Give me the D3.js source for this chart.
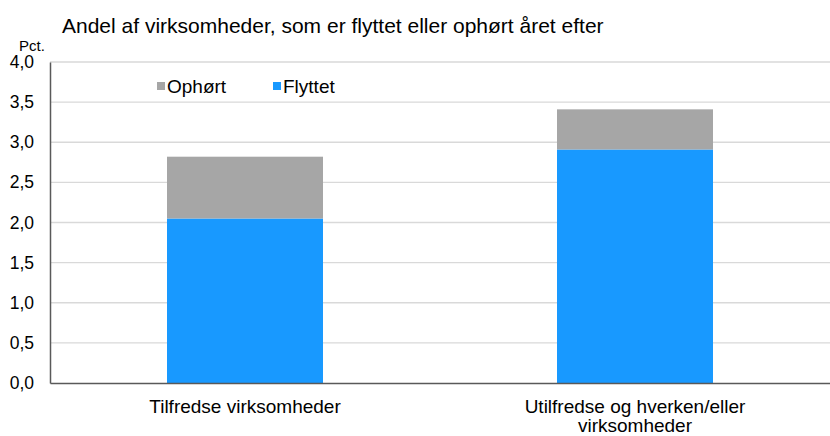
<!DOCTYPE html>
<html>
<head>
<meta charset="utf-8">
<script src="https://cdn.jsdelivr.net/npm/d3@7"></script>
<style>
  body { margin: 0; background: #fff; }
  text { font-family: "Liberation Sans", Arial, sans-serif; fill: #000; }
</style>
</head>
<body>
<svg width="830" height="436"></svg>
<script>
/* Data */
const categories = ['Tilfredse virksomheder', 'Utilfredse og hverken/eller virksomheder'];
const categoryLines = [['Tilfredse virksomheder'], ['Utilfredse og hverken/eller', 'virksomheder']];
const flyttet = [2.05, 2.91];
const ophoert = [0.77, 0.50];
const seriesNames = ['Flyttet', 'Ophørt'];
const yTicks = [0, 0.5, 1, 1.5, 2, 2.5, 3, 3.5, 4];

const colors = { 'Flyttet': '#1899ff', 'Ophørt': '#a6a6a6' };

/* SVG */
const svg = d3.select('svg');
const margin = { top: 62, right: 0, bottom: 53, left: 50 };
const width = 830 - margin.left - margin.right;
const height = 436 - margin.top - margin.bottom;

const g = svg.append('g').attr('transform', `translate(${margin.left},${margin.top})`);

/* Scales */
const x = d3.scaleBand().domain(categories).range([0, width]).paddingInner(0.6).paddingOuter(0.3);
const y = d3.scaleLinear().domain([0, 4]).range([height, 0]);

const fmt = d => d3.format('.1f')(d).replace('.', ',');

/* Gridlines */
g.append('g')
  .selectAll('line').data(yTicks.filter(d => d > 0))
  .enter().append('line')
  .attr('x1', 0).attr('x2', width)
  .attr('y1', d => y(d)).attr('y2', d => y(d))
  .attr('stroke', '#d9d9d9').attr('stroke-width', 1.3);

/* Stacked bars */
const table = categories.map((c, i) => ({ cat: c, 'Flyttet': flyttet[i], 'Ophørt': ophoert[i] }));
const stack = d3.stack().keys(seriesNames)(table);

g.append('g').selectAll('g').data(stack)
  .enter().append('g')
  .attr('fill', d => colors[d.key])
  .selectAll('rect').data(d => d)
  .enter().append('rect')
  .attr('x', d => x(d.data.cat))
  .attr('width', x.bandwidth())
  .attr('y', d => y(d[1]))
  .attr('height', d => y(d[0]) - y(d[1]));

/* Y axis */
const yAxis = g.append('g')
  .call(d3.axisLeft(y).tickValues(yTicks).tickFormat(fmt).tickSize(0).tickPadding(16));
yAxis.select('.domain').attr('stroke', '#595959').attr('stroke-width', 1.5);
yAxis.selectAll('text').style('font-size', '17.5px').attr('fill', '#000')
  .style('font-family', '"Liberation Sans", Arial, sans-serif');

/* X axis */
const xAxis = g.append('g').attr('transform', `translate(0,${height})`)
  .call(d3.axisBottom(x).tickSize(0).tickFormat(''));
xAxis.select('.domain').attr('stroke', '#595959').attr('stroke-width', 1.5);

categories.forEach((c, i) => {
  const cx = x(c) + x.bandwidth() / 2;
  const t = g.append('text')
    .attr('x', cx)
    .attr('y', height + 30)
    .attr('text-anchor', 'middle')
    .style('font-size', '19px');
  categoryLines[i].forEach((line, j) => {
    t.append('tspan').attr('x', cx).attr('dy', j === 0 ? 0 : 19).text(line);
  });
});

/* Subtitle and unit */
svg.append('text').attr('x', 62).attr('y', 33).style('font-size', '21px')
  .text('Andel af virksomheder, som er flyttet eller ophørt året efter');
svg.append('text').attr('x', 32).attr('y', 51).attr('text-anchor', 'middle').style('font-size', '15px')
  .text('Pct.');

/* Legend */
const legendItems = [
  { name: 'Ophørt', x: 157 },
  { name: 'Flyttet', x: 273 }
];
const legend = svg.append('g').selectAll('g').data(legendItems)
  .enter().append('g').attr('transform', d => `translate(${d.x},82)`);
legend.append('rect').attr('width', 8).attr('height', 8).attr('fill', d => colors[d.name]);
legend.append('text').attr('x', 10).attr('y', 11).style('font-size', '19px').text(d => d.name);
</script>
</body>
</html>
